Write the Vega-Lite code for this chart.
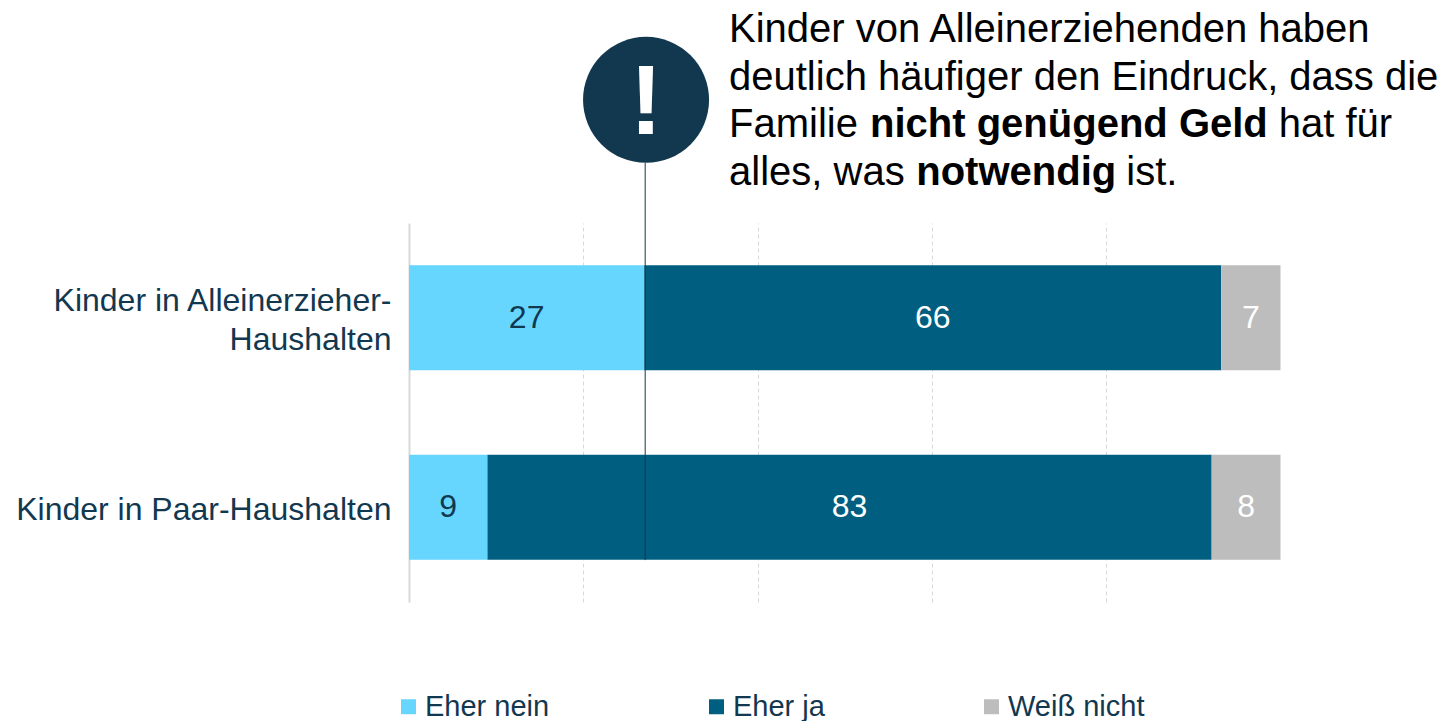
{"$schema":"https://vega.github.io/schema/vega-lite/v6.json","width":871.5,"height":379,"autosize":{"type":"none"},"padding":{"left":409,"top":223,"right":164,"bottom":119},"background":"white","config":{"view":{"stroke":null},"font":"Liberation Sans"},"resolve":{"scale":{"y":"independent"},"axis":{"y":"independent"}},"layer":[{"data":{"values":[{"group":"Kinder in Alleinerzieher-|Haushalten","answer":"Eher nein","order":1,"value":27},{"group":"Kinder in Alleinerzieher-|Haushalten","answer":"Eher ja","order":2,"value":66.2},{"group":"Kinder in Alleinerzieher-|Haushalten","answer":"Weiß nicht","order":3,"value":6.8},{"group":"Kinder in Paar-Haushalten","answer":"Eher nein","order":1,"value":9},{"group":"Kinder in Paar-Haushalten","answer":"Eher ja","order":2,"value":83.1},{"group":"Kinder in Paar-Haushalten","answer":"Weiß nicht","order":3,"value":7.9}]},"transform":[{"stack":"value","groupby":["group"],"sort":[{"field":"order","order":"ascending"}],"as":["v0","v1"]},{"calculate":"(datum.v0+datum.v1)/2","as":"mid"}],"encoding":{"y":{"field":"group","type":"nominal","sort":null,"title":null,"scale":{"paddingInner":0.446,"paddingOuter":0.223},"axis":{"labelExpr":"split(datum.label,'|')","labelFontSize":32,"labelColor":"#12384f","labelFont":"Liberation Sans","labelPadding":18,"labelLineHeight":39,"labelLimit":400,"labelOffset":{"condition":{"test":"indexof(datum.label,'|')>=0","value":-17},"value":3},"ticks":false,"domain":true,"domainColor":"#d9d9d9","domainWidth":2,"grid":false}}},"layer":[{"mark":{"type":"bar"},"encoding":{"x":{"field":"v0","type":"quantitative","title":null,"scale":{"domain":[0,100],"nice":false},"axis":{"values":[20,40,60,80],"labels":false,"ticks":false,"domain":false,"grid":true,"gridColor":"#d9d9d9","gridDash":[4,3],"gridWidth":1,"title":null}},"x2":{"field":"v1"},"color":{"field":"answer","type":"nominal","sort":["Eher nein","Eher ja","Weiß nicht"],"scale":{"domain":["Eher nein","Eher ja","Weiß nicht"],"range":["#66d6ff","#005f80","#bdbdbd"]},"legend":{"title":null,"orient":"none","legendX":-15,"legendY":469,"direction":"horizontal","columns":3,"gridAlign":"each","columnPadding":152,"symbolType":"square","symbolSize":225,"symbolStrokeWidth":0,"labelFontSize":29,"labelColor":"#12384f","labelFont":"Liberation Sans","labelOffset":2,"labelLimit":300}}}},{"mark":{"type":"text","fontSize":32,"font":"Liberation Sans","baseline":"middle","align":"center"},"encoding":{"x":{"field":"mid","type":"quantitative"},"text":{"field":"value","type":"quantitative","format":".0f"},"color":{"condition":{"test":"datum.answer === 'Eher nein'","value":"#12384f"},"value":"white"}}}]},{"encoding":{"y":{"field":"row","type":"quantitative","title":null,"axis":null,"scale":{"domain":[5.063,13.042],"reverse":true,"nice":false,"zero":false}}},"layer":[{"data":{"values":[{"pos":27.1,"row":3.8,"row2":12.16}]},"mark":{"type":"rule","color":"#12384f","strokeWidth":1},"encoding":{"x":{"field":"pos","type":"quantitative"},"y2":{"field":"row2"}}},{"data":{"values":[{"pos":27.2,"row":2.47}]},"mark":{"type":"point","shape":"circle","filled":true,"opacity":1,"size":15876,"color":"#12384f"},"encoding":{"x":{"field":"pos","type":"quantitative"}}},{"data":{"values":[{"pos":27.2,"row":2.58,"text":"!"}]},"mark":{"type":"text","fontSize":98,"fontWeight":"bold","font":"Liberation Sans","color":"white","align":"center","baseline":"middle"},"encoding":{"x":{"field":"pos","type":"quantitative"},"text":{"field":"text"}}},{"data":{"values":[{"pos":36.72,"row":1,"text":"Kinder von Alleinerziehenden haben"},{"pos":36.72,"row":2,"text":"deutlich häufiger den Eindruck, dass die"},{"pos":36.72,"row":3,"text":"Familie"},{"pos":99.8,"row":3,"text":"hat für"},{"pos":36.72,"row":4,"text":"alles, was"},{"pos":82.3,"row":4,"text":"ist."}]},"mark":{"type":"text","fontSize":40,"font":"Liberation Sans","color":"black","align":"left","baseline":"middle"},"encoding":{"x":{"field":"pos","type":"quantitative"},"text":{"field":"text"}}},{"data":{"values":[{"pos":52.9,"row":3,"text":"nicht genügend Geld"},{"pos":58.2,"row":4,"text":"notwendig"}]},"mark":{"type":"text","fontSize":40,"fontWeight":"bold","font":"Liberation Sans","color":"black","align":"left","baseline":"middle"},"encoding":{"x":{"field":"pos","type":"quantitative"},"text":{"field":"text"}}}]}]}
